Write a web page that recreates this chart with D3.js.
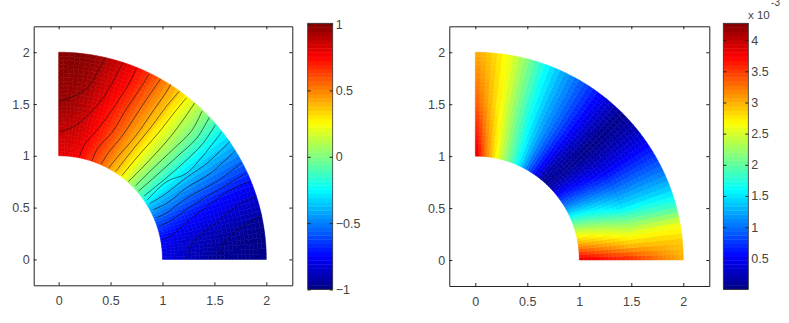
<!DOCTYPE html>
<html>
<head>
<meta charset="utf-8">
<style>
  html, body { margin: 0; padding: 0; background: #fff; }
  svg { display: block; }
  text { font-family: "Liberation Sans", Arial, sans-serif; font-size: 12.5px; fill: #444; }
</style>
<script src="https://cdn.jsdelivr.net/npm/d3@7"></script>
</head>
<body>
<svg id="chart" width="789" height="323"></svg>
<script>
// Values. Angles in degrees from the +x axis.
const leftRadii = [1, 1.25, 1.5, 1.75, 2];
const leftAngles = [0, 5, 10, 20, 30, 35, 40, 45, 50, 55, 60, 65, 70, 80, 85, 90];
const leftField = [
  [-.80, -.79, -.76, -.61, -.38, -.21, -.07, .02, .18, .32, .43, .54, .63, .76, .79, .80],
  [-.87, -.86, -.83, -.67, -.42, -.25, -.09, .03, .18, .33, .45, .57, .67, .83, .86, .87],
  [-.95, -.93, -.88, -.72, -.45, -.29, -.11, .05, .18, .34, .47, .60, .70, .88, .93, .95],
  [-.97, -.97, -.93, -.76, -.48, -.32, -.14, .03, .18, .36, .50, .64, .75, .93, .97, .97],
  [-.98, -1, -.97, -.80, -.50, -.34, -.17, .02, .19, .37, .53, .68, .80, .97, 1, .98]
];

const rightRadii = [1, 1.5, 2];
const rightAngles = [0, 5, 10, 15, 20, 25, 30, 35, 40, 45, 50, 55, 60, 65, 70, 75, 80, 85, 90];
const rightField = [
  [3.9, 3.4, 2.95, 2.55, 2.1, 1.6, 1.15, .8, .45, .15, .1, .5, .95, 1.5, 1.95, 2.35, 2.8, 3.3, 3.95],
  [3.6, 3.0, 2.55, 2.05, 1.5, 1.15, .8, .45, .2, .02, .3, .65, 1.0, 1.3, 1.7, 2.15, 2.6, 3.0, 3.4],
  [3.0, 2.9, 2.6, 1.85, 1.4, 1.05, .75, .45, .2, .05, .35, .65, .95, 1.25, 1.6, 2.1, 2.55, 2.85, 3.05]
];

// Contour lines of the left panel, as [x, y] in data units
const contourLines = [
  [[.01,1.53],[.16,1.58],[.29,1.67],[.38,1.82],[.45,1.95]],
  [[.01,1.23],[.16,1.29],[.32,1.43],[.45,1.59],[.56,1.79],[.62,1.90]],
  [[.20,.99],[.25,1.11],[.38,1.26],[.54,1.48],[.69,1.72],[.75,1.85]],
  [[.32,.95],[.38,1.08],[.51,1.22],[.67,1.48],[.80,1.67],[.87,1.79]],
  [[.41,.92],[.48,1.03],[.61,1.19],[.77,1.43],[.91,1.64],[.98,1.74]],
  [[.48,.88],[.56,.98],[.74,1.19],[.90,1.42],[1.02,1.59],[1.08,1.69]],
  [[.55,.85],[.69,1.03],[.90,1.29],[1.04,1.48],[1.16,1.62]],
  [[.61,.81],[.75,.98],[.96,1.22],[1.10,1.40],[1.23,1.56]],
  [[.67,.75],[.82,.90],[1.04,1.14],[1.18,1.32],[1.31,1.51]],
  [[.74,.71],[.90,.87],[1.10,1.06],[1.28,1.24],[1.38,1.43]],
  [[.77,.66],[.93,.80],[1.15,1.00],[1.33,1.17],[1.45,1.37]],
  [[.82,.61],[.98,.74],[1.20,.93],[1.39,1.12],[1.51,1.30]],
  [[.85,.57],[1.04,.75],[1.23,.83],[1.39,1.00],[1.57,1.23]],
  [[.88,.54],[1.04,.64],[1.23,.79],[1.43,.93],[1.65,1.14]],
  [[.91,.48],[1.04,.54],[1.23,.69],[1.46,.83],[1.70,1.05]],
  [[.94,.40],[1.04,.45],[1.23,.59],[1.52,.75],[1.76,.93]],
  [[.97,.32],[1.07,.37],[1.30,.53],[1.52,.66],[1.80,.83]],
  [[1.00,.19],[1.10,.24],[1.20,.33],[1.39,.48],[1.65,.67],[1.84,.75]],
  [[1.23,.01],[1.30,.17],[1.49,.33],[1.71,.51],[1.90,.61]],
  [[1.54,.01],[1.60,.17],[1.75,.30],[1.96,.43]]
];

const axisTicks = [0, 0.5, 1, 1.5, 2];
const leftBarTicks = [-1, -0.5, 0, 0.5, 1];
const rightBarTicks = [0.5, 1, 1.5, 2, 2.5, 3, 3.5, 4];
const leftBarDomain = [-1, 1];
const rightBarDomain = [0.003, 4.27];

// MATLAB jet
const jetStops = ["#000080", "#0000ff", "#00ffff", "#ffff00", "#ff0000", "#800000"];
const jetPositions = [0, .125, .375, .625, .875, 1];
const jet = d3.scaleLinear().domain(jetPositions).range(jetStops).clamp(true);

const svg = d3.select("#chart");

// Read the field table at (r, angle), between the read values
function fieldAt(radii, angles, field, r, a) {
  const i = Math.min(d3.bisectRight(radii, r) - 1, radii.length - 2);
  const j = Math.min(d3.bisectRight(angles, a) - 1, angles.length - 2);
  const tr = (r - radii[i]) / (radii[i + 1] - radii[i]);
  const ta = (a - angles[j]) / (angles[j + 1] - angles[j]);
  const v0 = field[i][j] * (1 - ta) + field[i][j + 1] * ta;
  const v1 = field[i + 1][j] * (1 - ta) + field[i + 1][j + 1] * ta;
  return v0 * (1 - tr) + v1 * tr;
}

function drawPanel(opts) {
  const x = d3.scaleLinear().domain(opts.xDomain).range(opts.xRange);
  const y = d3.scaleLinear().domain([-.25, 2.25]).range(opts.yRange);
  const color = d3.scaleLinear().domain(opts.barDomain).range([0, 1]);
  const g = svg.append("g");

  // Annulus sector as small polar cells
  const da = 1.5, dr = 0.04;
  const line = d3.line().x(d => x(d[0])).y(d => y(d[1]));
  const toXY = (r, a) => [r * Math.cos(a * Math.PI / 180), r * Math.sin(a * Math.PI / 180)];
  const cells = [];
  d3.range(0, 90, da).forEach(a => {
    d3.range(1, 2 - 1e-6, dr).forEach(r => cells.push({ a, r }));
  });
  g.selectAll("path.cell").data(cells).join("path")
    .attr("class", "cell")
    .attr("d", d => line([toXY(d.r, d.a), toXY(d.r + dr, d.a), toXY(d.r + dr, d.a + da), toXY(d.r, d.a + da)]) + "Z")
    .attr("fill", d => jet(color(fieldAt(opts.radii, opts.angles, opts.field, d.r + dr / 2, d.a + da / 2))))
    .attr("stroke", d => jet(color(fieldAt(opts.radii, opts.angles, opts.field, d.r + dr / 2, d.a + da / 2))))
    .attr("stroke-width", 0.5);

  if (opts.contours) {
    const contour = d3.line().x(d => x(d[0])).y(d => y(d[1])).curve(d3.curveCatmullRom.alpha(0.5));
    g.selectAll("path.contour").data(opts.contours).join("path")
      .attr("class", "contour")
      .attr("d", contour)
      .attr("fill", "none")
      .attr("stroke", "#111")
      .attr("stroke-opacity", 0.75)
      .attr("stroke-width", 0.8);
  }

  // Box with inward ticks on all four sides
  const [x0, x1] = opts.xRange;
  const [y0, y1] = opts.yRange;
  const fmt = d3.format("~g");
  const addAxis = (axis, tx, ty, labels) => {
    const a = g.append("g").attr("transform", `translate(${tx},${ty})`)
      .call(axis.tickValues(axisTicks).tickSizeInner(-3).tickSizeOuter(0).tickPadding(labels ? 8 : 0)
        .tickFormat(labels ? fmt : ""));
    a.selectAll("text").style("font-size", "12.5px").style("font-family", null).attr("fill", null);
    a.selectAll("line,path").attr("stroke", "#222").attr("stroke-width", 1);
    return a;
  };
  addAxis(d3.axisBottom(x), 0, y0, true).selectAll("text").attr("dy", "0.95em");
  addAxis(d3.axisTop(x), 0, y1, false);
  addAxis(d3.axisLeft(y), x0, 0, true).selectAll("text").attr("dx", "4px");
  addAxis(d3.axisRight(y), x1, 0, false);

  // Colorbar
  const barY = d3.scaleLinear().domain(opts.barDomain).range(opts.barRange);
  const barTop = 23.3, barBottom = 289.3;
  const steps = d3.range(64);
  const stepH = (barBottom - barTop) / 64;
  g.selectAll("rect.band").data(steps).join("rect")
    .attr("class", "band")
    .attr("x", opts.barX)
    .attr("width", 25)
    .attr("y", d => barBottom - (d + 1) * stepH)
    .attr("height", stepH + 0.4)
    .attr("fill", d => jet((d + .5) / 64));

  g.append("rect")
    .attr("x", opts.barX).attr("y", barTop).attr("width", 25).attr("height", barBottom - barTop)
    .attr("fill", "none").attr("stroke", "#333").attr("stroke-width", 0.8);

  const barAxis = g.append("g").attr("transform", `translate(${opts.barX + 25},0)`)
    .call(d3.axisRight(barY).tickValues(opts.barTicks).tickSizeInner(-3).tickSizeOuter(0).tickPadding(3).tickFormat(fmt));
  barAxis.select("path").remove();
  barAxis.selectAll("line").attr("stroke", "#222");
  barAxis.selectAll("text").style("font-size", "12.5px").style("font-family", null).attr("fill", null);
  g.append("g").attr("transform", `translate(${opts.barX},0)`)
    .call(d3.axisLeft(barY).tickValues(opts.barTicks).tickSizeInner(-3).tickSizeOuter(0).tickFormat(""))
    .call(s => s.select("path").remove())
    .selectAll("line").attr("stroke", "#222");
}

drawPanel({
  xDomain: [-.24, 2.25], xRange: [33.7, 292.3], yRange: [285.3, 26.3],
  radii: leftRadii, angles: leftAngles, field: leftField, contours: contourLines,
  barDomain: leftBarDomain, barRange: [289.5, 24], barX: 307.7, barTicks: leftBarTicks
});

drawPanel({
  xDomain: [-.25, 2.25], xRange: [449.3, 709.3], yRange: [286, 26.3],
  radii: rightRadii, angles: rightAngles, field: rightField,
  barDomain: rightBarDomain, barRange: [289.3, 23.3], barX: 723.3, barTicks: rightBarTicks
});

// Exponent of the right colorbar
svg.append("text").attr("x", 748).attr("y", 18.5).style("font-size", "11.5px").text("x 10");
svg.append("text").attr("x", 780).attr("y", 6).attr("text-anchor", "end").style("font-size", "10px").text("-3");
</script>
</body>
</html>
